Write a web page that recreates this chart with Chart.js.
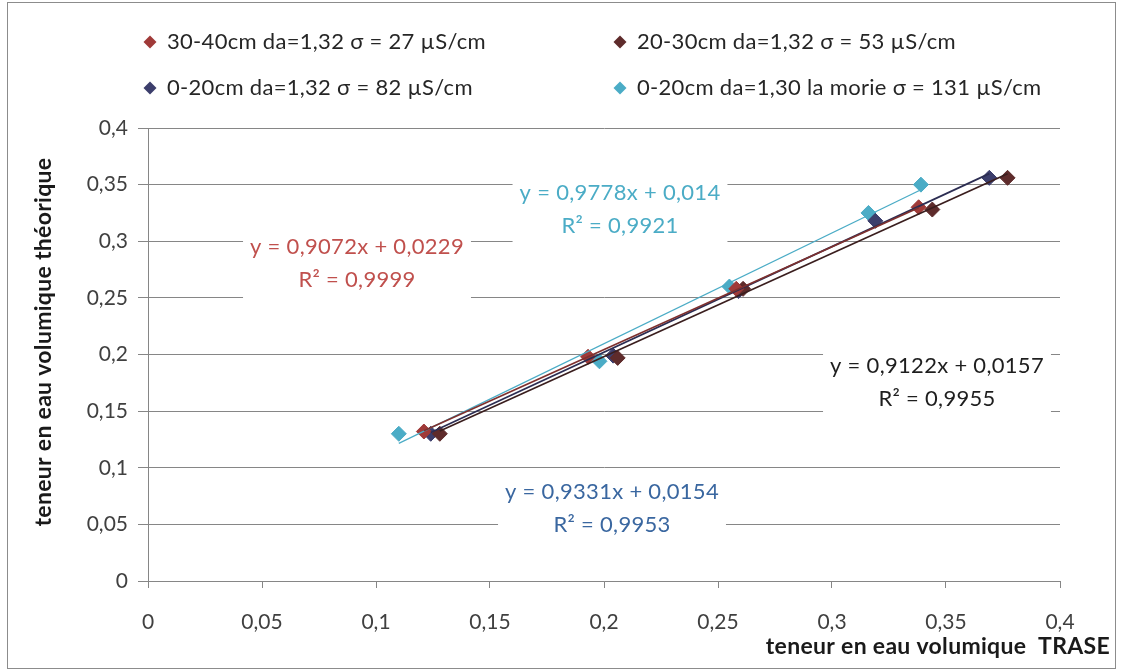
<!DOCTYPE html>
<html>
<head>
<meta charset="utf-8">
<script src="https://cdn.jsdelivr.net/npm/chart.js@4.4.1/dist/chart.umd.min.js"></script>
<style>
  html, body { margin: 0; padding: 0; background: #ffffff; }
  #wrap { width: 1125px; height: 672px; position: relative; }
</style>
</head>
<body>
<div id="wrap"><canvas id="chart" width="1125" height="672"></canvas></div>
<script>
// Tick labels (French decimal comma)
const xTickLabels = ['0', '0,05', '0,1', '0,15', '0,2', '0,25', '0,3', '0,35', '0,4'];
const yTickLabels = ['0', '0,05', '0,1', '0,15', '0,2', '0,25', '0,3', '0,35', '0,4'];

// Series names
const seriesNames = [
  '30-40cm da=1,32 \u03c3 = 27 \u00b5S/cm',
  '20-30cm da=1,32 \u03c3 = 53 \u00b5S/cm',
  '0-20cm da=1,32 \u03c3 = 82 \u00b5S/cm',
  '0-20cm da=1,30 la morie \u03c3 = 131 \u00b5S/cm'
];

// Measurements: TRASE (x) vs theoretical (y) volumetric water content
const trase3040 = [0.121, 0.193, 0.258, 0.338];
const theo3040  = [0.132, 0.198, 0.258, 0.330];

const trase2030 = [0.128, 0.206, 0.261, 0.344, 0.377];
const theo2030  = [0.130, 0.197, 0.258, 0.328, 0.356];

const trase020  = [0.124, 0.204, 0.259, 0.319, 0.369];
const theo020   = [0.130, 0.199, 0.256, 0.318, 0.356];

const trase020m = [0.110, 0.198, 0.255, 0.316, 0.339];
const theo020m  = [0.130, 0.194, 0.260, 0.325, 0.350];

// Linear trend lines (slope, intercept, R²)
const fitSlope     = [0.9072, 0.9122, 0.9331, 0.9778];
const fitIntercept = [0.0229, 0.0157, 0.0154, 0.014];
const fitR2        = ['0,9999', '0,9955', '0,9953', '0,9921'];

const FONT = 'Lato, "Open Sans", "DejaVu Sans", sans-serif';
const markerColors = ['#A03A38', '#5E2B2B', '#3C3E6C', '#4BACC6'];
const lineColors   = ['#7E302E', '#3A1E1E', '#2C2D52', '#4BACC6'];
const eqColors     = ['#C0504D', '#1E1E1E', '#3A67A0', '#4BACC6'];

const traseSets = [trase3040, trase2030, trase020, trase020m];
const theoSets  = [theo3040, theo2030, theo020, theo020m];

function toPoints(xs, ys) { return xs.map((x, i) => ({ x: x, y: ys[i] })); }
function comma(v) { return String(v).replace('.', ','); }

const datasets = [];
for (let s = 0; s < 4; s++) {
  datasets.push({
    label: seriesNames[s],
    data: toPoints(traseSets[s], theoSets[s]),
    pointStyle: 'rectRot',
    pointRadius: 7.5,
    pointHoverRadius: 7.5,
    backgroundColor: markerColors[s],
    borderColor: markerColors[s],
    borderWidth: 1,
    showLine: false,
    order: 1
  });
}
for (let s = 0; s < 4; s++) {
  const xs = traseSets[s];
  const x0 = Math.min(...xs), x1 = Math.max(...xs);
  datasets.push({
    label: 'trend ' + seriesNames[s],
    data: [
      { x: x0, y: fitSlope[s] * x0 + fitIntercept[s] },
      { x: x1, y: fitSlope[s] * x1 + fitIntercept[s] }
    ],
    showLine: true,
    pointRadius: 0,
    borderColor: lineColors[s],
    borderWidth: s === 3 ? 1.3 : 1.7,
    fill: false,
    order: 0
  });
}

// Placement of the trend-line equation boxes (centre x, first line y)
const eqPlacement = [
  { cx: 357, y: 247 },
  { cx: 937, y: 366 },
  { cx: 612, y: 492 },
  { cx: 620, y: 193 }
];

function diamond(ctx, x, y, r, color) {
  ctx.beginPath();
  ctx.moveTo(x, y - r);
  ctx.lineTo(x + r, y);
  ctx.lineTo(x, y + r);
  ctx.lineTo(x - r, y);
  ctx.closePath();
  ctx.fillStyle = color;
  ctx.fill();
}

const decorations = {
  id: 'decorations',
  beforeDraw(chart) {
    const ctx = chart.ctx;
    ctx.save();
    ctx.fillStyle = '#ffffff';
    ctx.fillRect(0, 0, chart.width, chart.height);
    ctx.strokeStyle = '#8c8c8c';
    ctx.lineWidth = 1;
    ctx.strokeRect(7.5, 2.5, 1108, 666);
    ctx.restore();
  },
  afterDatasetsDraw(chart) {
    const ctx = chart.ctx;
    ctx.save();
    ctx.font = '22px ' + FONT;
    ctx.letterSpacing = '0.3px';
    ctx.textAlign = 'center';
    ctx.textBaseline = 'middle';
    for (let s = 0; s < 4; s++) {
      const p = eqPlacement[s];
      const l1 = 'y = ' + comma(fitSlope[s]) + 'x + ' + comma(fitIntercept[s]);
      const l2 = 'R\u00b2 = ' + fitR2[s];
      const w = Math.max(ctx.measureText(l1).width, ctx.measureText(l2).width) + 14;
      ctx.fillStyle = '#ffffff';
      ctx.fillRect(p.cx - w / 2, p.y - 17, w, 33 + 36);
      ctx.fillStyle = eqColors[s];
      ctx.fillText(l1, p.cx, p.y);
      ctx.fillText(l2, p.cx, p.y + 33);
    }
    ctx.restore();
  },
  afterDraw(chart) {
    const ctx = chart.ctx;
    ctx.save();
    // legend, two columns
    const cols = [150, 620], rows = [42, 88];
    ctx.font = '22px ' + FONT;
    ctx.letterSpacing = '0.3px';
    ctx.textAlign = 'left';
    ctx.textBaseline = 'middle';
    for (let s = 0; s < 4; s++) {
      const x = cols[s % 2], y = rows[Math.floor(s / 2)];
      diamond(ctx, x, y, 6.5, markerColors[s]);
      ctx.fillStyle = '#262626';
      ctx.fillText(seriesNames[s], x + 17, y);
    }
    // axis titles
    ctx.font = 'bold 23px ' + FONT;
    ctx.letterSpacing = '0.3px';
    ctx.fillStyle = '#1a1a1a';
    ctx.textAlign = 'right';
    ctx.fillText('teneur en eau volumique  TRASE', 1110, 647);
    ctx.translate(44, 342);
    ctx.rotate(-Math.PI / 2);
    ctx.textAlign = 'center';
    ctx.fillText('teneur en eau volumique th\u00e9orique', 0, 0);
    ctx.restore();
  }
};

new Chart(document.getElementById('chart'), {
  type: 'scatter',
  data: { datasets: datasets },
  options: {
    responsive: false,
    animation: false,
    devicePixelRatio: 1,
    layout: { padding: { left: 0, right: 65, top: 128, bottom: 0 } },
    plugins: { legend: { display: false }, tooltip: { enabled: false } },
    scales: {
      x: {
        type: 'linear',
        min: 0, max: 0.4,
        afterFit(scale) { scale.height = 91; },
        ticks: {
          stepSize: 0.05,
          padding: 22,
          maxRotation: 0,
          color: '#404040',
          font: { family: FONT, size: 21 },
          callback: (v) => xTickLabels[Math.round(v / 0.05)]
        },
        grid: { drawOnChartArea: false, drawTicks: true, tickLength: 7, color: '#868686' },
        border: { display: true, color: '#868686', width: 1 }
      },
      y: {
        type: 'linear',
        min: 0, max: 0.4,
        afterFit(scale) { scale.width = 148; },
        ticks: {
          stepSize: 0.05,
          padding: 10,
          color: '#404040',
          font: { family: FONT, size: 21 },
          callback: (v) => yTickLabels[Math.round(v / 0.05)]
        },
        grid: { color: '#868686', lineWidth: 1, drawTicks: true, tickLength: 10 },
        border: { display: true, color: '#868686', width: 1 }
      }
    }
  },
  plugins: [decorations]
});
</script>
</body>
</html>
